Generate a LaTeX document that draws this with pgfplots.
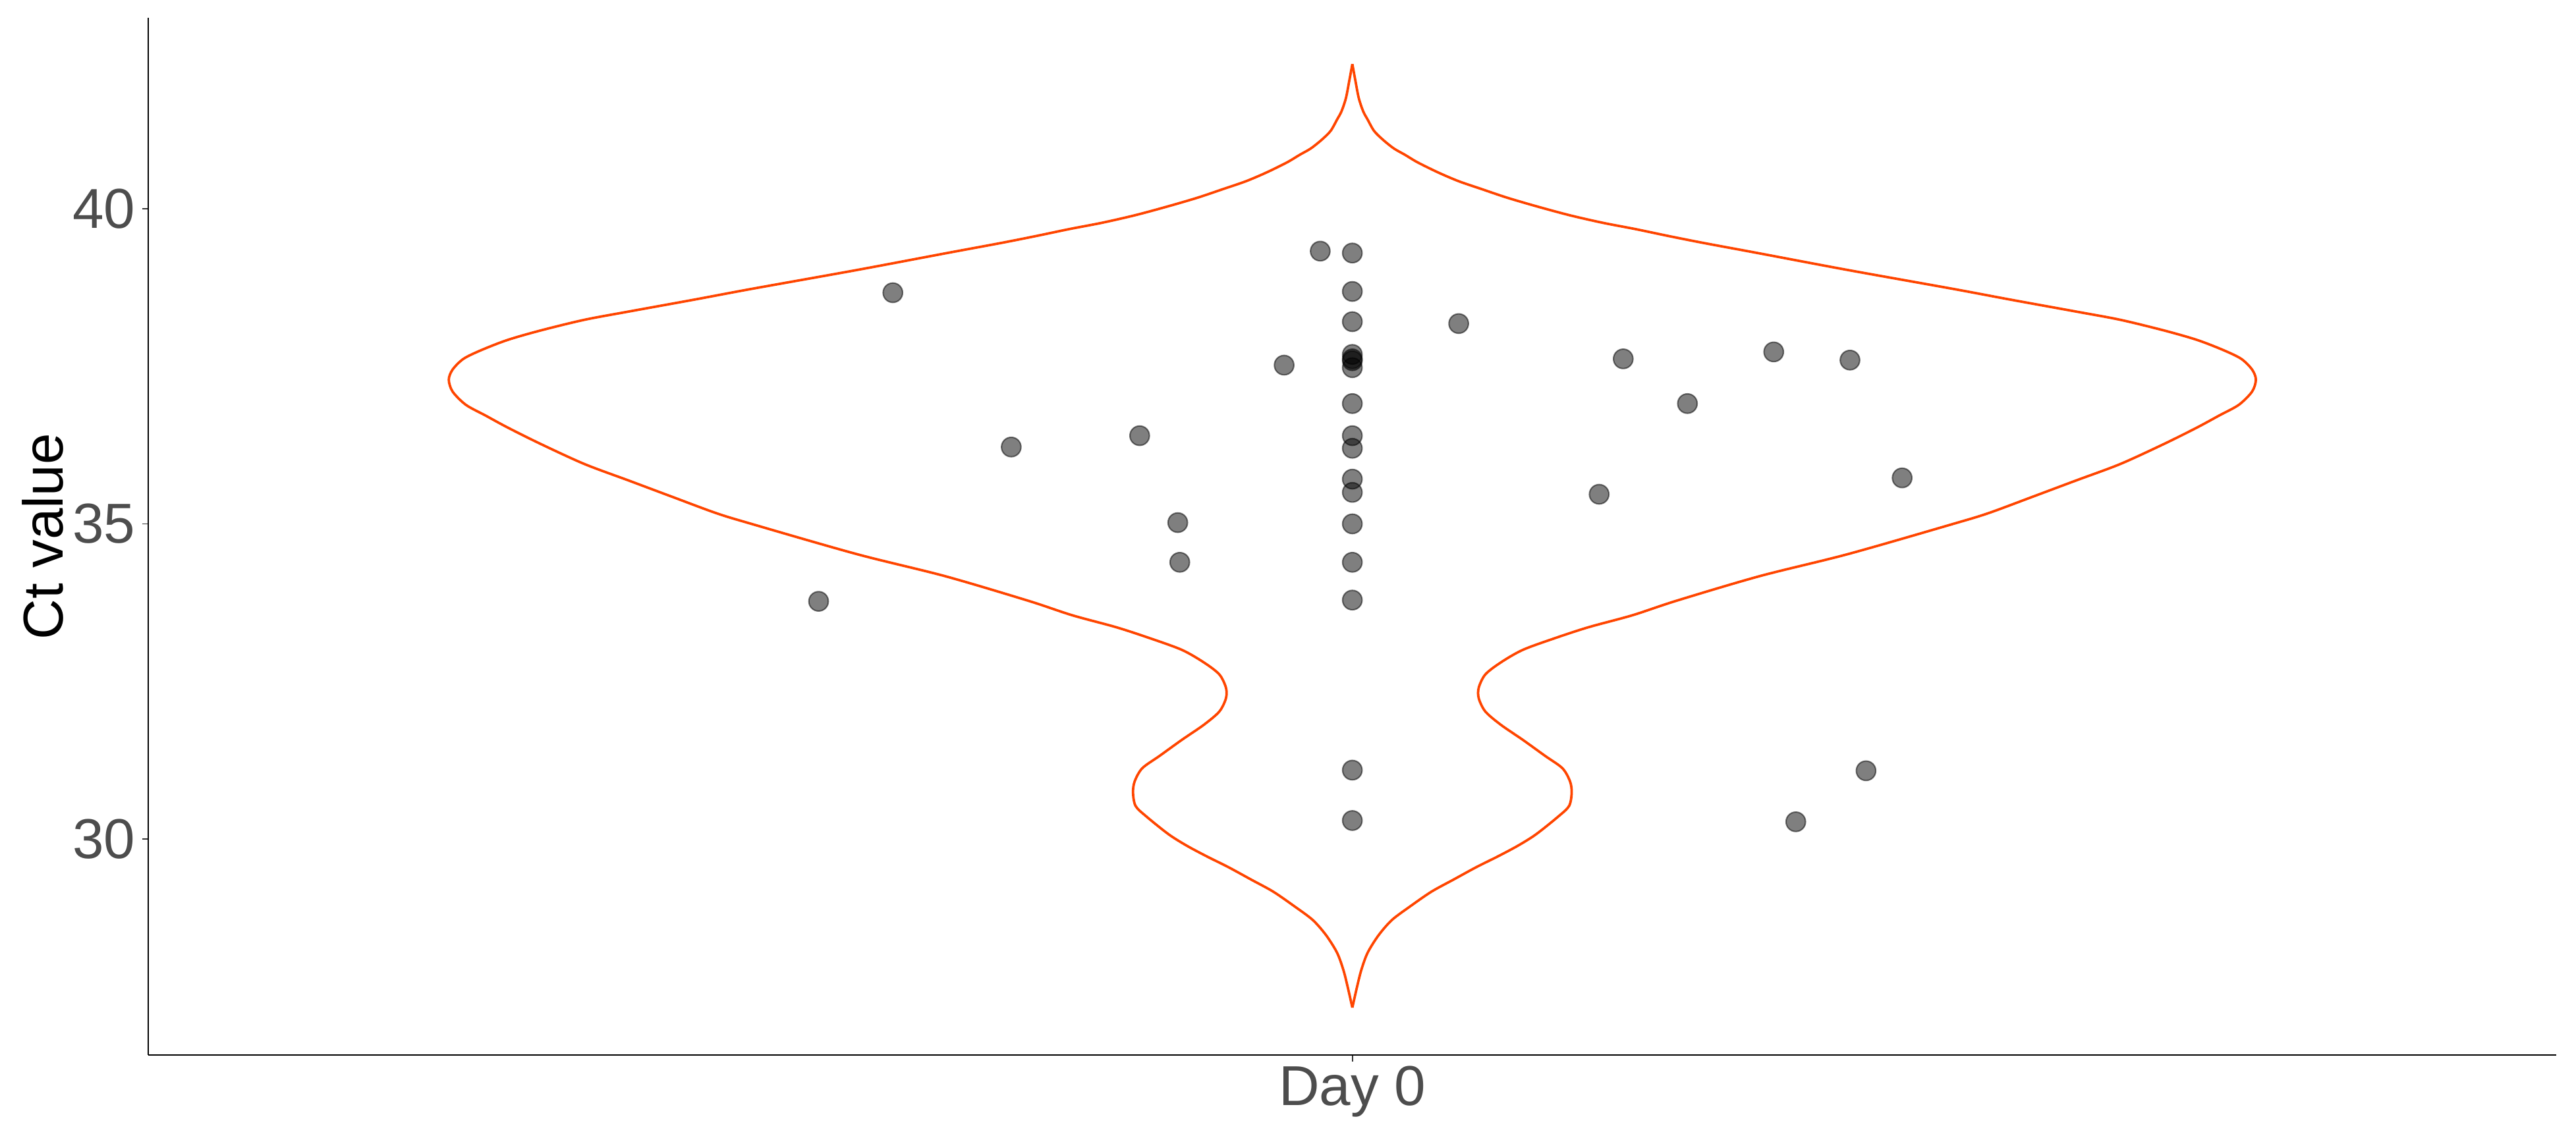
\documentclass[border=0pt]{standalone}
\usepackage{fontspec}
\setmainfont{Liberation Sans}
\usepackage{pgfplots}
\pgfplotsset{compat=1.18}
\usepackage{pgfplotstable}
\definecolor{violinc}{HTML}{FF4500}
\definecolor{tickc}{HTML}{4D4D4D}
\definecolor{tickl}{HTML}{333333}

% violin outline: y value, left edge x, right edge x
\pgfplotstableread{
y xl xr
42.30 1.0000 1.0000
42.04 0.9985 1.0015
41.76 0.9968 1.0032
41.55 0.9946 1.0054
41.42 0.9924 1.0076
41.24 0.9892 1.0108
41.10 0.9848 1.0152
40.96 0.9793 1.0207
40.86 0.9738 1.0262
40.74 0.9675 1.0325
40.58 0.9573 1.0427
40.44 0.9470 1.0530
40.32 0.9360 1.0640
40.18 0.9230 1.0770
40.04 0.9080 1.0920
39.90 0.8917 1.1083
39.78 0.8752 1.1248
39.68 0.8589 1.1411
39.57 0.8424 1.1576
39.46 0.8250 1.1750
39.30 0.7980 1.2020
39.03 0.7530 1.2470
38.73 0.7005 1.2995
38.56 0.6720 1.3280
38.37 0.6392 1.3608
38.24 0.6173 1.3827
38.07 0.5954 1.4046
37.92 0.5790 1.4210
37.76 0.5660 1.4340
37.62 0.5570 1.4430
37.45 0.5516 1.4484
37.29 0.5497 1.4503
37.10 0.5516 1.4484
36.89 0.5582 1.4418
36.72 0.5680 1.4320
36.53 0.5790 1.4210
36.27 0.5954 1.4046
35.95 0.6173 1.3827
35.69 0.6392 1.3608
35.43 0.6610 1.3390
35.17 0.6830 1.3170
35.00 0.7005 1.2995
34.52 0.7530 1.2470
34.17 0.7970 1.2030
33.78 0.8384 1.1616
33.55 0.8603 1.1397
33.36 0.8822 1.1178
33.19 0.8986 1.1014
33.00 0.9150 1.0850
32.80 0.9260 1.0740
32.61 0.9337 1.0663
32.40 0.9370 1.0630
32.23 0.9370 1.0630
32.02 0.9337 1.0663
31.81 0.9260 1.0740
31.57 0.9150 1.0850
31.32 0.9041 1.0959
31.12 0.8953 1.1047
30.91 0.8915 1.1085
30.73 0.8907 1.1093
30.52 0.8920 1.1080
30.35 0.8975 1.1025
30.07 0.9085 1.0915
29.89 0.9175 1.0825
29.72 0.9275 1.0725
29.55 0.9382 1.0618
29.35 0.9497 1.0503
29.16 0.9606 1.0394
28.92 0.9715 1.0285
28.71 0.9803 1.0197
28.47 0.9869 1.0131
28.19 0.9924 1.0076
27.91 0.9956 1.0044
27.63 0.9978 1.0022
27.32 1.0000 1.0000
}\violin

\pgfplotstableread{
x y
1 39.30
1 38.69
1 38.21
1 37.69
1 37.62
1 37.59
1 37.48
1 36.91
1 36.40
1 36.20
1 35.71
1 35.50
1 35.00
1 34.39
1 33.79
1 31.09
1 30.29
0.984 39.33
0.771 38.67
1.053 38.18
0.966 37.52
1.135 37.62
1.210 37.73
1.248 37.60
1.167 36.91
0.894 36.40
0.830 36.22
1.123 35.47
0.913 35.02
0.914 34.39
0.734 33.77
1.274 35.73
1.256 31.08
1.221 30.27
}\pts

\begin{document}
\begin{tikzpicture}
\begin{axis}[
  at={(0pt,0pt)}, anchor=south west,
  scale only axis, width=877.1pt, height=377.9pt,
  xmin=0.4, xmax=1.6, ymin=26.566, ymax=43.03,
  axis x line*=bottom, axis y line*=left,
  axis line style={line width=0.5pt, black, -},
  xtick={1}, xticklabels={Day 0},
  ytick={30,35,40},
  minor tick num=0,
  tick align=outside, major tick length=2.3pt,
  tick style={line width=0.45pt, color=tickl},
  ticklabel style={font=\fontsize{20.5}{24}\selectfont, text=tickc, inner sep=0pt},
  /pgf/number format/assume math mode=true,
  yticklabel style={anchor=east},
  yticklabel shift=2.3pt,
  xticklabel style={anchor=north},
  xticklabel shift=1.54pt,
  ylabel={Ct value},
  ylabel style={at={(axis description cs:-0.04378,0.5)}, anchor=center, font=\fontsize{20.5}{24}\selectfont, text=black, inner sep=0pt},
  clip=false,
]
\addplot[violinc, line width=0.9pt, smooth, tension=0.5] table[x=xl, y=y] {\violin};
\addplot[violinc, line width=0.9pt, smooth, tension=0.5] table[x=xr, y=y] {\violin};
\addplot[only marks, mark=*, mark size=3.55pt, mark options={fill=black, draw=black, line width=0.5pt, opacity=0.5}] table[x=x, y=y] {\pts};
\end{axis}
\pgfresetboundingbox
\useasboundingbox (-54.07pt,-29.28pt) rectangle (884.3pt,384.5pt);
\end{tikzpicture}
\end{document}
